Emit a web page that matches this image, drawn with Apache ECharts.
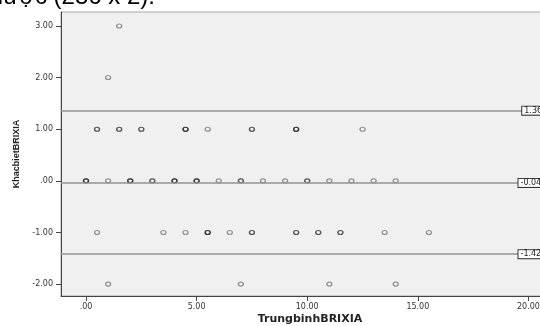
<!DOCTYPE html>
<html>
<head>
<meta charset="utf-8">
<script src="https://cdn.jsdelivr.net/npm/echarts@6/dist/echarts.min.js"></script>
<style>
  html, body { margin: 0; padding: 0; background: #fff; overflow: hidden; }
  #chart { width: 560px; height: 326px; }
</style>
</head>
<body>
<div id="chart"></div>
<script>
// TrungbinhBRIXIA values at each KhacbietBRIXIA level (repeated values = overlapping, darker points)
const meanAtDiff3 = [1.5]
const meanAtDiff2 = [1.0]
const meanAtDiff1 = [0.5, 0.5, 1.5, 1.5, 2.5, 2.5, 4.5, 4.5, 4.5, 5.5, 7.5, 7.5, 9.5, 9.5, 9.5, 12.5]
const meanAtDiff0 = [0, 0, 0, 1, 2, 2, 2, 3, 3, 4, 4, 4, 5, 5, 5, 6, 7, 7, 8, 9, 10, 10, 11, 12, 13, 14]
const meanAtDiffM1 = [0.5, 3.5, 4.5, 5.5, 5.5, 5.5, 6.5, 7.5, 7.5, 9.5, 9.5, 10.5, 10.5, 11.5, 11.5, 13.5, 15.5]
const meanAtDiffM2 = [1, 7, 11, 14]

// reference lines: upper limit, mean difference, lower limit
const refLines = [1.36, -0.04, -1.42]

const xTicks = [0, 5, 10, 15, 20]
const yTicks = [-2, -1, 0, 1, 2, 3]

const points = []
const levels = [[3, meanAtDiff3], [2, meanAtDiff2], [1, meanAtDiff1], [0, meanAtDiff0], [-1, meanAtDiffM1], [-2, meanAtDiffM2]]
levels.forEach(([d, arr]) => {
  arr.forEach(m => points.push([m, d]))
})

const fmt = v => (v === 0 ? '.00' : v.toFixed(2))

const chart = echarts.init(document.getElementById('chart'))

const option = {
  animation: false,
  grid: {
    left: 61,
    top: 12,
    width: 492,
    height: 284,
    show: true,
    backgroundColor: '#f0f0f0',
    borderColor: '#a8a8a8',
    borderWidth: 1
  },
  xAxis: {
    type: 'value',
    min: -1.13,
    max: 21.11,
    axisLine: { show: true, onZero: false, lineStyle: { color: '#444', width: 1 } },
    axisTick: { show: true, customValues: xTicks, length: 5, lineStyle: { color: '#444' } },
    axisLabel: {
      customValues: xTicks,
      formatter: fmt,
      margin: 7,
      fontSize: 8,
      fontFamily: 'DejaVu Sans',
      color: '#333'
    },
    splitLine: { show: false }
  },
  yAxis: {
    type: 'value',
    min: -2.23,
    max: 3.27,
    axisLine: { show: true, onZero: false, lineStyle: { color: '#444', width: 1 } },
    axisTick: { show: true, customValues: yTicks, length: 5, lineStyle: { color: '#444' } },
    axisLabel: {
      customValues: yTicks,
      formatter: fmt,
      margin: 8,
      fontSize: 8,
      fontFamily: 'DejaVu Sans',
      color: '#333'
    },
    splitLine: { show: false }
  },
  series: [
    {
      type: 'scatter',
      data: points,
      symbol: 'circle',
      symbolSize: [5, 4],
      itemStyle: {
        color: 'rgba(0,0,0,0)',
        borderColor: 'rgba(0,0,0,0.5)',
        borderWidth: 1.2
      },
      markLine: {
        silent: true,
        symbol: 'none',
        lineStyle: { color: '#939393', width: 1.5, type: 'solid' },
        label: {
          show: true,
          position: 'end',
          distance: 0,
          fontSize: 8,
          fontFamily: 'DejaVu Sans',
          color: '#222',
          backgroundColor: '#fff',
          borderColor: '#333',
          borderWidth: 1,
          padding: [0, 2]
        },
        data: refLines.map(v => [
          { coord: [-1.13, v], label: { formatter: v.toFixed(2) } },
          {
            coord: [v < 0 ? 19.55 : 19.72, v],
            label: { formatter: v.toFixed(2) }
          }
        ])
      }
    }
  ],
  graphic: [
    {
      // cropped caption line from the page above the chart
      type: 'text',
      right: 405,
      top: -15,
      style: {
        text: 'được (236 x 2).',
        fontSize: 24,
        fontFamily: 'Liberation Sans',
        fill: '#000'
      }
    },
    {
      type: 'text',
      x: 17,
      y: 154,
      rotation: Math.PI / 2,
      style: {
        text: 'KhacbietBRIXIA',
        fontSize: 9,
        fontWeight: 'bold',
        fontFamily: 'Liberation Sans',
        fill: '#222',
        align: 'center',
        verticalAlign: 'middle'
      }
    },
    {
      type: 'text',
      x: 310,
      y: 319,
      style: {
        text: 'TrungbinhBRIXIA',
        fontSize: 11,
        fontWeight: 'bold',
        fontFamily: 'DejaVu Sans',
        fill: '#222',
        align: 'center',
        verticalAlign: 'middle'
      }
    }
  ]
}

chart.setOption(option)
</script>
</body>
</html>
